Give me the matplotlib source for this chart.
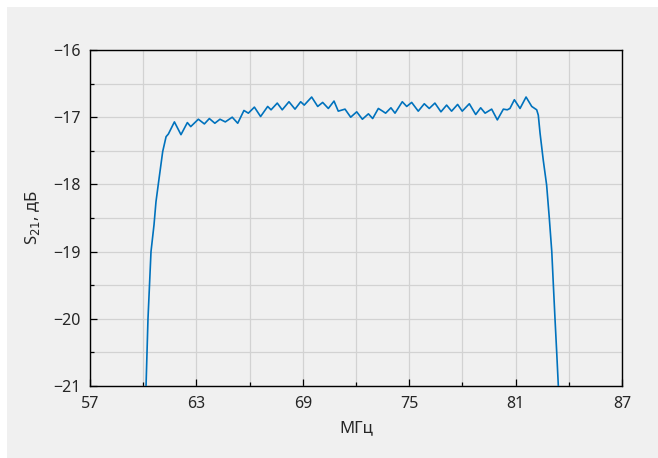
import matplotlib
matplotlib.use("Agg")
import matplotlib.pyplot as plt
from matplotlib.patches import Rectangle
from matplotlib.ticker import MultipleLocator

# Frequency (MHz) and S21 (dB)
freq = [60.10, 60.16, 60.27, 60.44, 60.61, 60.72, 60.85, 61.10, 61.29, 61.42,
        61.76, 62.13, 62.49, 62.68, 63.11, 63.45, 63.73, 64.04, 64.33, 64.63,
        65.02, 65.33, 65.68, 65.93, 66.27, 66.62, 67.02, 67.21, 67.56, 67.84,
        68.22, 68.56, 68.88, 69.08, 69.50, 69.84, 70.12, 70.44, 70.76, 71.00,
        71.38, 71.70, 72.04, 72.36, 72.70, 72.94, 73.26, 73.50, 73.67, 73.97,
        74.20, 74.61, 74.86, 75.14, 75.51, 75.85, 76.13, 76.45, 76.79, 77.11,
        77.39, 77.73, 77.99, 78.39, 78.75, 79.03, 79.28, 79.65, 79.97, 80.31,
        80.53, 80.68, 80.93, 81.25, 81.59, 81.91, 82.19, 82.28, 82.38, 82.56,
        82.75, 82.90, 83.04, 83.13, 83.22, 83.32, 83.41, 83.48]
s21 = [-21.6, -21.0, -20.0, -19.0, -18.60, -18.26, -18.00, -17.51, -17.29, -17.25,
       -17.07, -17.26, -17.08, -17.14, -17.03, -17.10, -17.02, -17.09, -17.03, -17.07,
       -17.00, -17.09, -16.90, -16.94, -16.85, -16.99, -16.84, -16.89, -16.79, -16.89,
       -16.77, -16.88, -16.77, -16.82, -16.70, -16.84, -16.78, -16.87, -16.76, -16.91,
       -16.88, -17.00, -16.92, -17.03, -16.95, -17.02, -16.87, -16.91, -16.94, -16.86,
       -16.94, -16.77, -16.84, -16.78, -16.91, -16.80, -16.87, -16.79, -16.92, -16.82,
       -16.91, -16.81, -16.91, -16.80, -16.96, -16.86, -16.94, -16.88, -17.04, -16.88,
       -16.89, -16.87, -16.74, -16.87, -16.70, -16.84, -16.89, -16.97, -17.24, -17.64,
       -18.01, -18.50, -19.00, -19.50, -19.99, -20.51, -21.00, -21.5]

x_ticks = [57, 63, 69, 75, 81, 87]
y_ticks = [-16, -17, -18, -19, -20, -21]

plt.rcParams['font.family'] = ['Noto Sans', 'DejaVu Sans']

fig = plt.figure(figsize=(6.58, 4.58), dpi=100, facecolor='white')
fig.patches.append(Rectangle((7/658, 0), 651/658, 451/458, transform=fig.transFigure,
                             facecolor='#f0f0f0', edgecolor='none', zorder=-10))
ax = fig.add_axes([90/658, (458-386)/458, (622-90)/658, (386-50)/458])
ax.set_facecolor('#f0f0f0')

ax.plot(freq, s21, color='#0072BD', lw=1.2, solid_joinstyle='round', zorder=3)

ax.set_xlim(57, 87)
ax.set_ylim(-21, -16)
ax.set_xticks(x_ticks)
ax.set_yticks(y_ticks)
ax.set_yticklabels([f"\u2212{abs(v)}" for v in y_ticks])
ax.xaxis.set_minor_locator(MultipleLocator(3))
ax.yaxis.set_minor_locator(MultipleLocator(0.5))
ax.grid(True, which='both', color='#d2d2d2', lw=0.9, zorder=0)
ax.set_axisbelow(True)
ax.tick_params(which='both', direction='in', top=False, right=False, colors='black',
               labelcolor='#262626', labelsize=11.5, width=0.9)
ax.tick_params(which='major', length=5, pad=7)
ax.tick_params(which='minor', length=3)
for sp in ax.spines.values():
    sp.set_color('black')
    sp.set_linewidth(1.0)

ax.set_xlabel('МГц', fontsize=12, color='#262626', labelpad=6)
ax.set_ylabel('S$_{21}$, дБ', fontsize=12, color='#262626', labelpad=8)

fig.savefig('out.png', dpi=100, facecolor='white')
